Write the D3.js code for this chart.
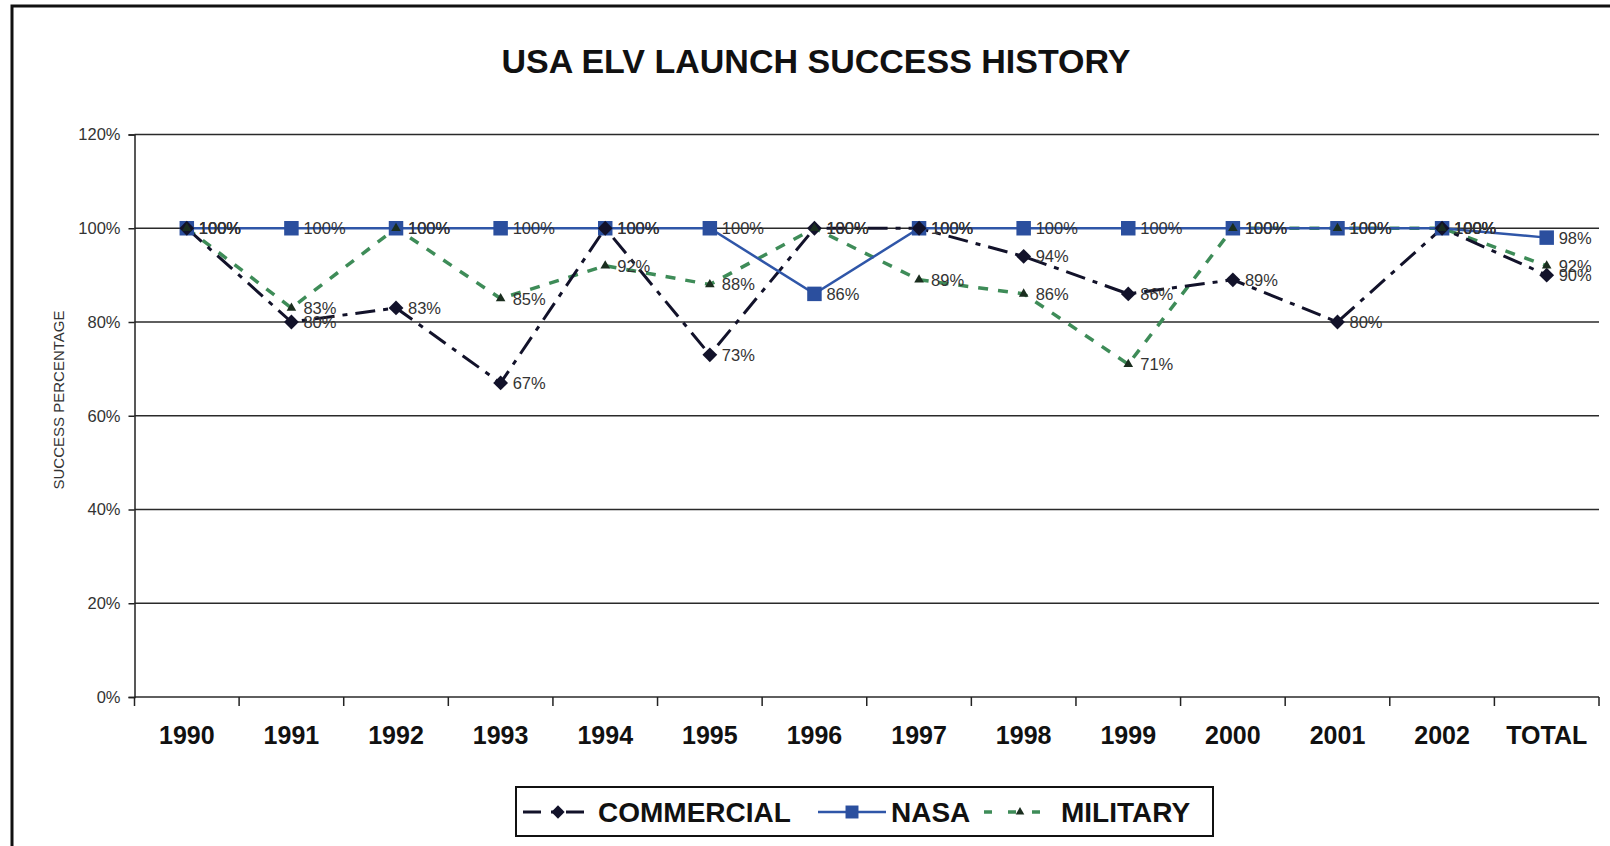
<!DOCTYPE html>
<html>
<head>
<meta charset="utf-8">
<script src="https://cdn.jsdelivr.net/npm/d3@7"></script>
<style>
  body { margin: 0; background: #fff; }
  text { font-family: "Liberation Sans", Arial, sans-serif; }
</style>
</head>
<body>
<div class="chart"></div>
<script>
// categories and series values (fractions)
var years = ["1990","1991","1992","1993","1994","1995","1996","1997","1998","1999","2000","2001","2002","TOTAL"];
var commercial = [1.00, 0.80, 0.83, 0.67, 1.00, 0.73, 1.00, 1.00, 0.94, 0.86, 0.89, 0.80, 1.00, 0.90];
var nasa       = [1.00, 1.00, 1.00, 1.00, 1.00, 1.00, 0.86, 1.00, 1.00, 1.00, 1.00, 1.00, 1.00, 0.98];
var military   = [1.00, 0.83, 1.00, 0.85, 0.92, 0.88, 1.00, 0.89, 0.86, 0.71, 1.00, 1.00, 1.00, 0.92];
var yTicks = [0, 0.2, 0.4, 0.6, 0.8, 1.0, 1.2];
var seriesNames = ["COMMERCIAL", "NASA", "MILITARY"];

var W = 1610, H = 846;
var margin = {top: 134.5, right: 11, bottom: 149, left: 134.5},
    width = W - margin.left - margin.right,
    height = H - margin.top - margin.bottom;

var svg = d3.select(".chart").append("svg")
    .attr("width", W)
    .attr("height", H);

// outer frame
svg.append("rect")
    .attr("x", 12).attr("y", 6)
    .attr("width", W + 20).attr("height", H + 20)
    .attr("fill", "#fff")
    .attr("stroke", "#111")
    .attr("stroke-width", 3);

svg.append("text")
    .attr("x", 816).attr("y", 73)
    .attr("text-anchor", "middle")
    .style("font-size", "34px")
    .style("font-weight", "bold")
    .attr("fill", "#111")
    .text("USA ELV LAUNCH SUCCESS HISTORY");

var g = svg.append("g")
    .attr("transform", "translate(" + margin.left + "," + margin.top + ")");

var x = d3.scaleBand()
    .domain(years)
    .range([0, width]);

var y = d3.scaleLinear()
    .domain([0, 1.2])
    .range([height, 0]);

// gridlines
g.selectAll(".grid")
    .data(yTicks)
    .enter().append("line")
    .attr("class", "grid")
    .attr("x1", 0).attr("x2", width)
    .attr("y1", function(d){ return y(d); })
    .attr("y2", function(d){ return y(d); })
    .attr("stroke", "#2a2a2a")
    .attr("stroke-width", 1.5);

// y axis
var yAxis = d3.axisLeft(y)
    .tickValues(yTicks)
    .tickFormat(d3.format(".0%"))
    .tickSize(6)
    .tickPadding(8);

var ya = g.append("g").call(yAxis);
ya.select(".domain").attr("stroke", "#222").attr("stroke-width", 1.5);
ya.selectAll(".tick line").attr("stroke", "#222").attr("stroke-width", 1.5);
ya.selectAll(".tick text")
    .style("font-size", "16.5px")
    .attr("fill", "#333");

// x axis (labels only, ticks drawn on band edges)
var xAxis = d3.axisBottom(x).tickSize(0).tickPadding(29);
var xa = g.append("g")
    .attr("transform", "translate(0," + height + ")")
    .call(xAxis);
xa.select(".domain").remove();
xa.selectAll(".tick text")
    .style("font-size", "25px")
    .style("font-weight", "bold")
    .attr("fill", "#111");

var edges = years.map(function(d){ return x(d); }).concat([width]);
g.selectAll(".xtick")
    .data(edges)
    .enter().append("line")
    .attr("class", "xtick")
    .attr("x1", function(d){ return d; }).attr("x2", function(d){ return d; })
    .attr("y1", height).attr("y2", height + 9)
    .attr("stroke", "#222")
    .attr("stroke-width", 1.5);

svg.append("text")
    .attr("text-anchor", "middle")
    .attr("transform", "translate(64,400)rotate(-90)")
    .style("font-size", "15px")
    .attr("fill", "#333")
    .text("SUCCESS PERCENTAGE");

function cx(i){ return x(years[i]) + x.bandwidth() / 2; }

var line = d3.line()
    .x(function(d, i){ return cx(i); })
    .y(function(d){ return y(d); });

var styles = {
  COMMERCIAL: {data: commercial, color: "#12122a", dash: "20,8,5,8", width: 3, symbol: d3.symbolSquare, rot: 45, size: 110, fill: "#12122a"},
  NASA:       {data: nasa, color: "#2f56a8", dash: null, width: 2.5, symbol: d3.symbolSquare, rot: 0, size: 210, fill: "#2b4f9e"},
  MILITARY:   {data: military, color: "#3e8c58", dash: "10,10", width: 3.5, symbol: d3.symbolTriangle, rot: 0, size: 40, fill: "#1b2e1f"}
};

// lines, drawn military first so nasa sits on top
["MILITARY", "COMMERCIAL", "NASA"].forEach(function(name){
  var s = styles[name];
  g.append("path")
      .datum(s.data)
      .attr("fill", "none")
      .attr("stroke", s.color)
      .attr("stroke-width", s.width)
      .attr("stroke-dasharray", s.dash)
      .attr("d", line);
});

["NASA", "COMMERCIAL", "MILITARY"].forEach(function(name){
  var s = styles[name];
  g.selectAll(".pt-" + name)
      .data(s.data)
      .enter().append("path")
      .attr("class", "pt-" + name)
      .attr("transform", function(d, i){ return "translate(" + cx(i) + "," + y(d) + ")rotate(" + s.rot + ")"; })
      .attr("d", d3.symbol().type(s.symbol).size(s.size))
      .attr("fill", s.fill);
});

// data labels
seriesNames.forEach(function(name){
  var s = styles[name];
  g.selectAll(".lbl-" + name)
      .data(s.data)
      .enter().append("text")
      .attr("class", "lbl-" + name)
      .attr("x", function(d, i){ return cx(i) + 12; })
      .attr("y", function(d){ return y(d); })
      .attr("dy", "0.36em")
      .style("font-size", "16.5px")
      .attr("fill", "#333")
      .text(function(d){ return d3.format(".0%")(d); });
});

// legend
var lg = svg.append("g");
lg.append("rect")
    .attr("x", 516).attr("y", 787)
    .attr("width", 697).attr("height", 49)
    .attr("fill", "#fff")
    .attr("stroke", "#111")
    .attr("stroke-width", 2);

var legendItems = [
  {name: "COMMERCIAL", x0: 523, x1: 593},
  {name: "NASA", x0: 818, x1: 886},
  {name: "MILITARY", x0: 984, x1: 1056}
];
legendItems.forEach(function(it){
  var s = styles[it.name];
  var ly = 812;
  lg.append("line")
      .attr("x1", it.x0).attr("x2", it.x1)
      .attr("y1", ly).attr("y2", ly)
      .attr("stroke", s.color)
      .attr("stroke-width", s.width)
      .attr("stroke-dasharray", it.name == "COMMERCIAL" ? "18,10,5,10" : (it.name == "MILITARY" ? "8,16" : null));
  lg.append("path")
      .attr("transform", "translate(" + ((it.x0 + it.x1) / 2) + "," + ly + ")rotate(" + s.rot + ")")
      .attr("d", d3.symbol().type(s.symbol).size(s.size * 0.8))
      .attr("fill", s.fill);
  lg.append("text")
      .attr("x", it.x1 + 5).attr("y", ly + 10)
      .style("font-size", "28px")
      .style("font-weight", "bold")
      .attr("fill", "#111")
      .text(it.name);
});
</script>
</body>
</html>
